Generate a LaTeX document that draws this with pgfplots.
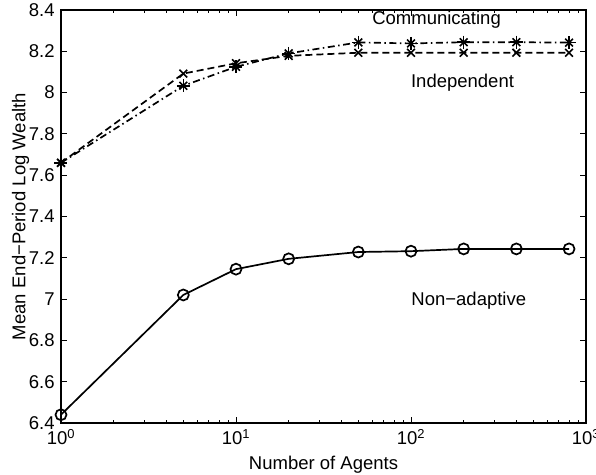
\documentclass[border=0pt]{standalone}
\usepackage{fontspec}
\setmainfont{Liberation Sans}
\usepackage{pgfplots}
\pgfplotsset{compat=1.18}
\begin{document}
\fontsize{18.5bp}{22bp}\selectfont
\begin{tikzpicture}
\begin{axis}[
  scale only axis, width=525bp, height=413bp,
  xmode=log, xmin=1, xmax=1000, ymin=6.4, ymax=8.4,
  xtick={1,10,100,1000},
  xticklabels={10\textsuperscript{0},10\textsuperscript{1},10\textsuperscript{2},10\textsuperscript{3}},
  ytick={6.4,6.6,...,8.41},
  yticklabel style={/pgf/number format/assume math mode=true},
  tick align=inside, tick pos=both,
  major tick length=6bp, minor tick length=3.5bp,
  axis line style={line width=1.3bp},
  every tick/.style={black, line width=0.8bp},
  xlabel={Number of Agents}, ylabel={Mean End−Period Log Wealth},
  xlabel style={at={(rel axis cs:0.5,0)}, anchor=center, yshift=-42bp},
  ylabel style={at={(rel axis cs:0,0.5)}, anchor=center, yshift=40.5bp},
  ticklabel style={font=\fontsize{18.5bp}{22bp}\selectfont},
  label style={font=\fontsize{18.5bp}{22bp}\selectfont},
  clip=false,
]
\addplot[black, line width=1.7bp, mark=o, mark size=5.5bp, mark options={solid, line width=1.7bp}] coordinates {
(1,6.44) (5,7.02) (10,7.145) (20,7.195) (50,7.228) (100,7.232) (200,7.243) (400,7.243) (800,7.243)};
\addplot[black, line width=1.7bp, dash pattern=on 7bp off 3.5bp on 1.5bp off 3.5bp, mark=x, mark size=5.5bp, mark options={solid, line width=1.6bp}] coordinates {
(1,7.66) (5,8.033) (10,8.125) (20,8.19) (50,8.243) (100,8.238) (200,8.244) (400,8.244) (800,8.242)};
\addplot[black, only marks, mark=+, mark size=6.5bp, mark options={solid, line width=1.6bp}] coordinates {
(1,7.66) (5,8.033) (10,8.125) (20,8.19) (50,8.243) (100,8.238) (200,8.244) (400,8.244) (800,8.242)};
\addplot[black, line width=1.7bp, dash pattern=on 7bp off 4bp, mark=x, mark size=5.5bp, mark options={solid, line width=1.6bp}] coordinates {
(1,7.66) (5,8.092) (10,8.142) (20,8.178) (50,8.193) (100,8.193) (200,8.193) (400,8.193) (800,8.193)};
\node at (axis cs:140,8.352) {Communicating};
\node at (axis cs:197,8.046) {Independent};
\node at (axis cs:214,6.992) {Non−adaptive};
\coordinate (sw) at (rel axis cs:0,0);
\coordinate (ne) at (rel axis cs:1,1);
\end{axis}
\pgfresetboundingbox
\path[use as bounding box] ([xshift=-61bp,yshift=-52bp]sw) rectangle ([xshift=10bp,yshift=10bp]ne);
\end{tikzpicture}
\end{document}
